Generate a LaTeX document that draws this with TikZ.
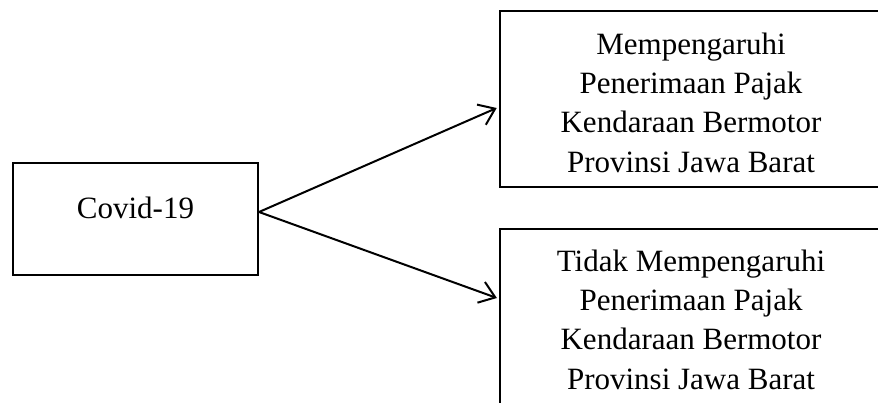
\documentclass[tikz,border=0pt]{standalone}
\usepackage{fontspec}
\setmainfont{Liberation Serif}
\usetikzlibrary{arrows.meta,calc}
\begin{document}
\begin{tikzpicture}[x=1pt,y=-1pt,
  boxline/.style={draw=black,line width=2.2pt,line join=miter},
  lbl/.style={inner sep=0pt,align=center,font=\fontsize{31}{39.3}\selectfont},
  conn/.style={line width=2pt,-{Straight Barb[length=15pt,width=22pt]}}]
\useasboundingbox (0,0) rectangle (878,402);
\clip (0,0) rectangle (878,402);
\fill[white] (0,0) rectangle (878,402);
% left box
\node[boxline,line width=2pt,rectangle,minimum width=245pt,minimum height=112pt,inner sep=0pt] (cbox) at (135.5,219) {};
\node[lbl,anchor=base] (ctext) at (135.5,218) {Covid-19};
% right boxes
\node[boxline,line width=2.6pt,rectangle,minimum width=382pt,minimum height=176pt,inner sep=0pt] (tbox) at (691,99) {};
\node[lbl] (ttext) at (691,102.5) {Mempengaruhi\\Penerimaan Pajak\\Kendaraan Bermotor\\Provinsi Jawa Barat};
\node[boxline,rectangle,minimum width=382pt,minimum height=200pt,inner sep=0pt] (bbox) at (691,329) {};
\node[lbl] (btext) at (691,319.5) {Tidak Mempengaruhi\\Penerimaan Pajak\\Kendaraan Bermotor\\Provinsi Jawa Barat};
% connectors
\coordinate (src) at ($(cbox.east)+(0,-7)$);
\coordinate (ttip) at ($(tbox.west)+(-2,9)$);
\coordinate (btip) at ($(bbox.west)+(-2,-31)$);
\draw[conn] (src) -- (ttip);
\draw[conn] (src) -- (btip);
\end{tikzpicture}
\end{document}
